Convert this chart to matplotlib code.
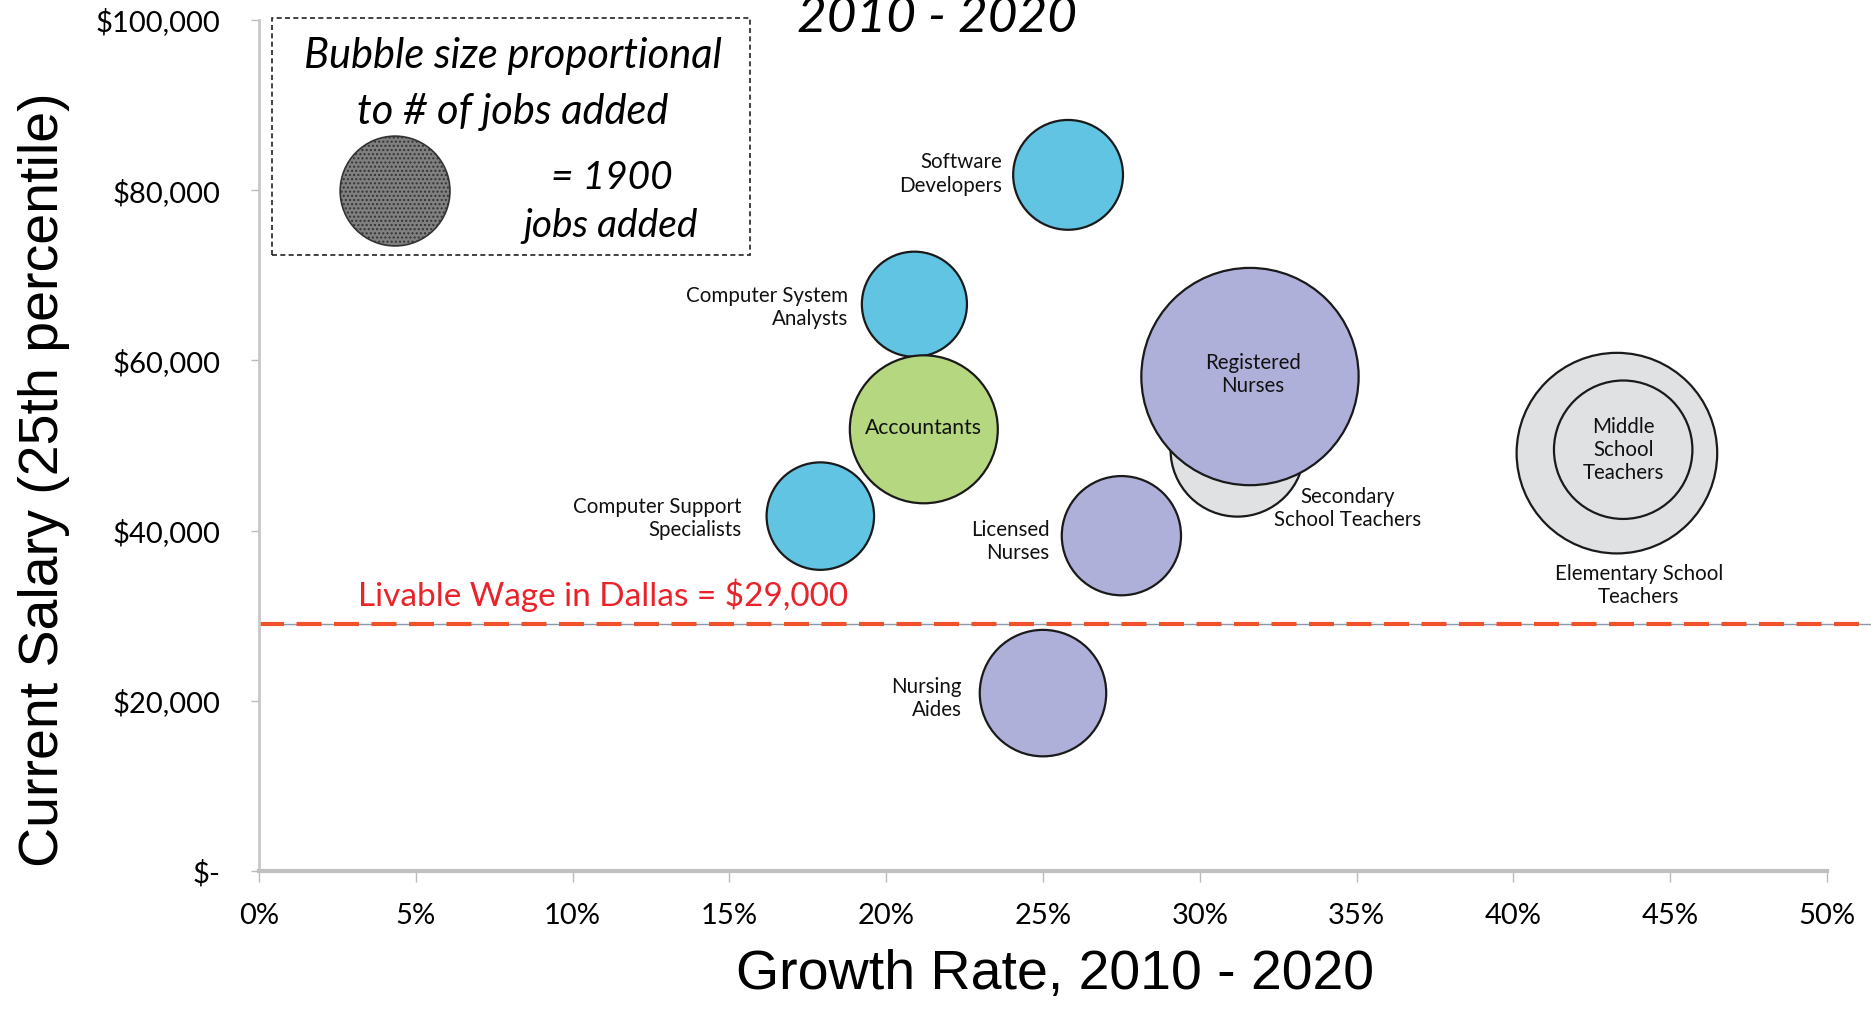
import matplotlib
matplotlib.use("Agg")
import matplotlib.pyplot as plt
from matplotlib.ticker import FuncFormatter

# occupations: growth rate, 25th percentile salary, jobs added
jobs = ["Secondary\nSchool Teachers", "Registered\nNurses", "Elementary School\nTeachers",
        "Middle\nSchool\nTeachers", "Software\nDevelopers", "Computer System\nAnalysts",
        "Accountants", "Computer Support\nSpecialists", "Licensed\nNurses", "Nursing\nAides"]
growth = [0.312, 0.316, 0.433, 0.435, 0.258, 0.209, 0.212, 0.179, 0.275, 0.250]
salary = [49500, 58100, 49100, 49500, 81800, 66600, 51900, 41700, 39400, 20900]
jobs_added = [2820, 7440, 6340, 3020, 1900, 1740, 3450, 1820, 2240, 2520]
colors = ["#E0E1E3", "#AFB0DA", "#E0E1E3", "#E0E1E3", "#62C4E3", "#62C4E3",
          "#B5D77F", "#62C4E3", "#AFB0DA", "#AFB0DA"]

legend_jobs = 1900
livable_wage = 29000

x_ticks = [0, 0.05, 0.10, 0.15, 0.20, 0.25, 0.30, 0.35, 0.40, 0.45, 0.50]
y_ticks = [0, 20000, 40000, 60000, 80000, 100000]

plt.rcParams['font.family'] = ['Lato', 'DejaVu Sans']

fig = plt.figure(figsize=(18.71, 10.09), dpi=100)
ax = fig.add_axes([0.1384, 0.1368, 0.8381, 0.8434])

# scatter size (pt^2) per job added
k = 3.29
ax.scatter(growth, salary, s=[j * k for j in jobs_added], c=colors,
           edgecolors="#1a1a1a", linewidths=1.6, zorder=3)

# legend bubble
ax.scatter([0.0434], [79900], s=[legend_jobs * k], c="#808080", hatch="....",
           edgecolors="#333333", linewidths=1.2, zorder=3)

# livable wage line
ax.plot([0, 1.028], [livable_wage, livable_wage], color="#8a98aa", lw=1,
        transform=ax.get_yaxis_transform(), clip_on=False, zorder=2)
ax.plot([0, 1.028], [livable_wage, livable_wage], color="#F0502A", lw=3,
        dashes=(6, 3), transform=ax.get_yaxis_transform(), clip_on=False, zorder=2)
ax.text(0.0316, 32400, "Livable Wage in Dallas = $29,000", color="#E8242A",
        fontsize=24, ha="left", va="center")

# labels
lab = dict(fontsize=14.8, linespacing=1.2, color="#111111", zorder=4)
ax.text(0.237, 81900, "Software\nDevelopers", ha="right", va="center", **lab)
ax.text(0.188, 66200, "Computer System\nAnalysts", ha="right", va="center", **lab)
ax.text(0.212, 52000, "Accountants", ha="center", va="center", fontsize=15.2, color="#111111", zorder=4)
ax.text(0.154, 41400, "Computer Support\nSpecialists", ha="right", va="center", **lab)
ax.text(0.317, 58300, "Registered\nNurses", ha="center", va="center", **lab)
ax.text(0.347, 42600, "Secondary\nSchool Teachers", ha="center", va="center", **lab)
ax.text(0.252, 38700, "Licensed\nNurses", ha="right", va="center", **lab)
ax.text(0.224, 20300, "Nursing\nAides", ha="right", va="center", **lab)
ax.text(0.435, 49500, "Middle\nSchool\nTeachers", ha="center", va="center", **lab)
ax.text(0.440, 33500, "Elementary School\nTeachers", ha="center", va="center", **lab)

ax.set_xlim(0, 0.5)
ax.set_ylim(0, 100000)
ax.set_xticks(x_ticks)
ax.set_yticks(y_ticks)
ax.xaxis.set_major_formatter(FuncFormatter(lambda v, p: f"{v * 100:.0f}%"))
ax.yaxis.set_major_formatter(FuncFormatter(lambda v, p: "$-" if v == 0 else f"${v:,.0f}"))
ax.tick_params(axis="x", length=8, width=1, color="#BBBBBB", pad=15, labelsize=21)
ax.tick_params(axis="y", length=6, width=1, color="#BBBBBB", pad=22, labelsize=21)

for s in ["top", "right"]:
    ax.spines[s].set_visible(False)
ax.spines["left"].set_color("#C8C8C8")
ax.spines["left"].set_linewidth(2)
ax.spines["bottom"].set_color("#C0C0C0")
ax.spines["bottom"].set_linewidth(3)

fig.text(0.0235, 0.525, "Current Salary (25th percentile)", rotation=90,
         fontsize=40, family="Liberation Sans", ha="center", va="center")
fig.text(0.564, 0.034, "Growth Rate, 2010 - 2020", fontsize=40,
         family="Liberation Sans", ha="center", va="center")

# partially visible title (cut at the top, as in the source)
fig.text(0.5008, 1 - 32 / 1009, "2010 - 2020", fontsize=37, style="italic",
         ha="center", va="baseline")

# legend box
box = plt.Rectangle((272 / 1871, 1 - 255 / 1009), 478 / 1871, 237 / 1009,
                    transform=fig.transFigure, fill=False, ls=(0, (3, 2)),
                    lw=1.2, edgecolor="#222222")
fig.patches.append(box)
fig.text(513 / 1871, 1 - 56 / 1009, "Bubble size proportional", fontsize=30,
         style="italic", ha="center", va="center")
fig.text(513 / 1871, 1 - 112 / 1009, "to # of jobs added", fontsize=30,
         style="italic", ha="center", va="center")
fig.text(612 / 1871, 1 - 178 / 1009, "= 1900", fontsize=28,
         style="italic", ha="center", va="center")
fig.text(611 / 1871, 1 - 226 / 1009, "jobs added", fontsize=28,
         style="italic", ha="center", va="center")

fig.savefig("out.png", dpi=100)
